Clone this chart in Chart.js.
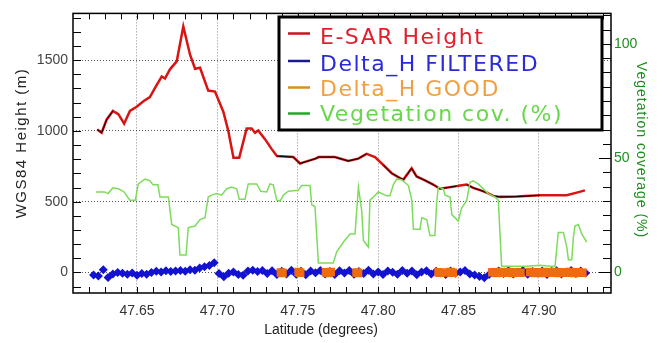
<!DOCTYPE html>
<html>
<head>
<meta charset="utf-8">
<script src="https://cdn.jsdelivr.net/npm/chart.js@4.4.1/dist/chart.umd.min.js"></script>
<style>
  html, body { margin: 0; padding: 0; background: #fff; }
</style>
</head>
<body>
<canvas id="profileChart" width="662" height="343"></canvas>
<script>
// E-SAR height profile (latitude, metres)
const heightLat = [47.6253, 47.6280, 47.6311, 47.6350, 47.6384, 47.6420, 47.6456, 47.6498, 47.6540, 47.6580,
  47.6622, 47.6654, 47.6674, 47.6705, 47.6747, 47.6788, 47.6830, 47.6861, 47.6892, 47.6943,
  47.6985, 47.7037, 47.7068, 47.7100, 47.7136, 47.7182, 47.7213, 47.7234, 47.7254, 47.7296,
  47.7337, 47.7370, 47.7472, 47.7514, 47.7545, 47.7610, 47.7630, 47.7730, 47.7814, 47.7876,
  47.7928, 47.7980, 47.8032, 47.8084, 47.8136, 47.8157, 47.8208, 47.8239, 47.8291, 47.8342,
  47.8384, 47.8488, 47.8510, 47.8551, 47.8591, 47.8633, 47.8675, 47.8716, 47.8758, 47.8861,
  47.9006, 47.9172, 47.9235, 47.9286];
const heightM = [1010, 987, 1079, 1141, 1118, 1051, 1141, 1171, 1210, 1239,
  1324, 1384, 1370, 1435, 1491, 1737, 1538, 1439, 1446, 1285,
  1278, 1136, 999, 811, 811, 1017, 1017, 987, 1003, 942,
  873, 822, 815, 770, 781, 804, 815, 815, 788, 804,
  838, 815, 759, 701, 667, 656, 736, 678, 651, 621,
  591, 610, 614, 621, 598, 582, 564, 541, 534, 536,
  545, 545, 564, 580];

// Vegetation coverage (latitude, %)
const vegLat = [47.6245, 47.6300, 47.6320, 47.6350, 47.6384, 47.6420, 47.6456, 47.6490, 47.6508, 47.6550,
  47.6580, 47.6600, 47.6630, 47.6643, 47.6695, 47.6716, 47.6757, 47.6767, 47.6805, 47.6819,
  47.6861, 47.6892, 47.6923, 47.6943, 47.6964, 47.6995, 47.7026, 47.7058, 47.7089, 47.7120,
  47.7136, 47.7172, 47.7192, 47.7244, 47.7270, 47.7307, 47.7327, 47.7348, 47.7369, 47.7390,
  47.7410, 47.7441, 47.7503, 47.7524, 47.7576, 47.7587, 47.7607, 47.7628, 47.7721, 47.7742,
  47.7784, 47.7825, 47.7856, 47.7877, 47.7898, 47.7908, 47.7939, 47.7949, 47.7970, 47.8001,
  47.8053, 47.8073, 47.8094, 47.8115, 47.8146, 47.8188, 47.8209, 47.8219, 47.8260, 47.8271,
  47.8302, 47.8322, 47.8353, 47.8364, 47.8374, 47.8405, 47.8416, 47.8447, 47.8458, 47.8498,
  47.8519, 47.8551, 47.8571, 47.8591, 47.8622, 47.8685, 47.8726, 47.8747, 47.8768, 47.8799,
  47.8924, 47.9006, 47.9068, 47.9100, 47.9120, 47.9152, 47.9173, 47.9183, 47.9204, 47.9214,
  47.9224, 47.9245, 47.9266, 47.9297];
const vegPct = [35.2, 35.2, 34.5, 37.0, 36.6, 35.2, 31.6, 31.6, 38.7, 40.8,
  40.1, 38.3, 38.3, 33.0, 33.0, 21.0, 19.6, 7.6, 7.6, 19.6,
  20.3, 23.1, 23.9, 33.0, 33.8, 34.5, 33.8, 36.6, 37.3, 36.6,
  32.0, 32.0, 38.7, 38.7, 35.5, 35.2, 38.7, 38.3, 31.6, 31.2,
  33.8, 35.5, 35.9, 38.0, 38.0, 29.5, 28.8, 4.1, 4.1, 9.0,
  13.3, 16.8, 16.8, 37.3, 26.7, 14.0, 11.1, 31.6, 33.0, 35.2,
  33.5, 33.5, 38.3, 40.8, 40.6, 38.0, 31.6, 18.9, 18.9, 23.9,
  23.1, 16.1, 16.1, 30.9, 37.3, 36.6, 33.8, 33.0, 25.3, 22.5,
  28.1, 31.6, 39.4, 40.1, 38.7, 34.5, 33.0, 31.6, 2.7, 2.7,
  2.7, 3.1, 2.7, 2.7, 17.5, 17.5, 11.1, 5.5, 5.5, 15.4,
  20.3, 21.0, 16.8, 13.3];

// Delta_H FILTERED (latitude, metres)
const filteredLat = [47.623, 47.626, 47.629, 47.632, 47.635, 47.638, 47.641, 47.644, 47.647, 47.650,
  47.653, 47.656, 47.659, 47.662, 47.665, 47.668, 47.671, 47.674, 47.677, 47.680,
  47.683, 47.686, 47.689, 47.692, 47.695, 47.698, 47.701, 47.704, 47.707, 47.710,
  47.713, 47.716, 47.719, 47.722, 47.725, 47.728, 47.731, 47.734, 47.737, 47.740,
  47.743, 47.746, 47.749, 47.752, 47.755, 47.758, 47.761, 47.764, 47.767, 47.770,
  47.773, 47.776, 47.779, 47.782, 47.785, 47.788, 47.791, 47.794, 47.797, 47.800,
  47.803, 47.806, 47.809, 47.812, 47.815, 47.818, 47.821, 47.824, 47.827, 47.830,
  47.833, 47.836, 47.839, 47.842, 47.845, 47.848, 47.851, 47.854, 47.857, 47.860,
  47.863, 47.866, 47.869, 47.872, 47.875, 47.878, 47.881, 47.884, 47.887, 47.890,
  47.893, 47.896, 47.899, 47.902, 47.905, 47.908, 47.911, 47.914, 47.917, 47.920,
  47.923, 47.926, 47.929];
const filteredDH = [-18, -25, 20, -35, -10, 0, -6, -12, -4, -20,
  -8, -12, 0, 8, 4, 12, 6, 10, 14, 8,
  20, 16, 32, 40, 50, 68, -8, -30, -6, 4,
  -14, -20, 10, 16, 6, 14, -8, 12, -14, 8,
  -10, 16, -12, 8, -16, 10, -2, 14, -10, 6,
  -14, 12, -4, 14, -12, 6, -8, 16, -10, 4,
  -14, 10, 2, -12, 14, -6, 10, -16, 4, 12,
  -10, 8, -4, -14, 10, -6, 4, 14, -10, -18,
  -28, -38, -14, 2, 10, -8, 12, -10, 4, 14,
  -12, 6, -4, 10, -14, 6, 12, -10, 4, 14,
  -8, 10, -4];

// Delta_H GOOD (latitude, metres)
const goodLat = [47.7395, 47.7405, 47.7505, 47.7515, 47.7675, 47.7690, 47.7705, 47.7865, 47.7875, 47.8375,
  47.8385, 47.8435, 47.8450, 47.8465, 47.8710, 47.8735, 47.8760, 47.8785, 47.8810, 47.8835,
  47.8860, 47.8885, 47.8945, 47.8970, 47.8995, 47.9020, 47.9045, 47.9070, 47.9095, 47.9120,
  47.9145, 47.9170, 47.9195, 47.9220, 47.9245, 47.9270];
const goodDH = [0, -4, 4, -2, 2, -4, 4, 0, -4, 2,
  -2, 0, 4, -2, 2, -3, 4, -2, 3, -4,
  2, -2, 3, -3, 2, -4, 3, -2, 4, -3,
  2, -2, 3, -4, 2, -2];

// stretches where the dark core shows inside the red height line
const darkCoreRanges = [[47.62, 47.632], [47.735, 47.79], [47.80, 47.845], [47.855, 47.89]];

const latTicks = [47.65, 47.70, 47.75, 47.80, 47.85, 47.90];
const heightTicks = [0, 500, 1000, 1500];
const vegTicks = [0, 50, 100];

const legendItems = [
  { label: 'E-SAR Height', line: '#c8141e', text: '#e0202c' },
  { label: 'Delta_H FILTERED', line: '#1a1a90', text: '#2a2ad8' },
  { label: 'Delta_H GOOD', line: '#d8901a', text: '#f0a040' },
  { label: 'Vegetation cov. (%)', line: '#22aa22', text: '#66d84a' }
];

const toPoints = (xs, ys) => xs.map((x, i) => ({ x: x, y: ys[i] }));

// inward ticks, frame, legend box and axis titles
const axisDecor = {
  id: 'axisDecor',
  afterDatasetsDraw(chart) {
    const { ctx, chartArea: a, scales } = chart;
    ctx.save();
    ctx.strokeStyle = '#000';
    ctx.lineWidth = 1;
    ctx.beginPath();
    for (let i = 4762; i <= 4794; i++) {
      const px = Math.round(scales.x.getPixelForValue(i / 100)) + 0.5;
      ctx.moveTo(px, a.bottom); ctx.lineTo(px, a.bottom - 6);
      ctx.moveTo(px, a.top); ctx.lineTo(px, a.top + 6);
    }
    for (let v = -100; v <= 1800; v += 100) {
      const py = Math.round(scales.y.getPixelForValue(v)) + 0.5;
      ctx.moveTo(a.left, py); ctx.lineTo(a.left + 8, py);
    }
    for (let i = -1; i <= 18; i++) {
      const py = Math.round(scales.y1.getPixelForValue(i * 6.25)) + 0.5;
      const len = i % 8 === 0 ? 12 : 8;
      ctx.moveTo(a.right, py); ctx.lineTo(a.right - len, py);
    }
    ctx.stroke();
    ctx.lineWidth = 1.5;
    ctx.strokeRect(a.left, a.top, a.right - a.left, a.bottom - a.top);
    ctx.restore();
  },
  afterDraw(chart) {
    const ctx = chart.ctx;
    ctx.save();
    // legend
    ctx.fillStyle = '#fff';
    ctx.fillRect(279, 17, 323, 113);
    ctx.strokeStyle = '#000';
    ctx.lineWidth = 3;
    ctx.strokeRect(279, 17, 323, 113);
    const lineY = [33.5, 61, 87.5, 113.5];
    const baseY = [44, 70.5, 95.5, 120.5];
    ctx.font = '22px "DejaVu Sans"';
    ctx.letterSpacing = '1.5px';
    ctx.textBaseline = 'alphabetic';
    ctx.textAlign = 'left';
    legendItems.forEach((it, i) => {
      ctx.strokeStyle = it.line;
      ctx.lineWidth = 2.5;
      ctx.beginPath();
      ctx.moveTo(288, lineY[i]); ctx.lineTo(310, lineY[i]);
      ctx.stroke();
      ctx.fillStyle = it.text;
      ctx.fillText(it.label, 320, baseY[i]);
    });
    // axis titles
    ctx.textAlign = 'center';
    ctx.textBaseline = 'middle';
    ctx.save();
    ctx.translate(22, 143);
    ctx.rotate(-Math.PI / 2);
    ctx.font = '15px "Liberation Sans"';
    ctx.letterSpacing = '1.5px';
    ctx.fillStyle = '#222';
    ctx.fillText('WGS84 Height (m)', 0, 0);
    ctx.restore();

    ctx.save();
    ctx.translate(641, 150);
    ctx.rotate(Math.PI / 2);
    ctx.font = '14px "Liberation Sans"';
    ctx.letterSpacing = '1px';
    ctx.fillStyle = '#1b8c1b';
    ctx.fillText('Vegetation coverage (%)', 0, 0);
    ctx.restore();

    ctx.font = '14px "Liberation Sans"';
    ctx.letterSpacing = '0px';
    ctx.fillStyle = '#222';
    ctx.fillText('Latitude (degrees)', 321, 330);
    ctx.restore();
  }
};

const tickFont = { family: '"Liberation Sans", Arial, sans-serif', size: 14 };

new Chart(document.getElementById('profileChart').getContext('2d'), {
  type: 'line',
  data: {
    datasets: [
      {
        label: 'Vegetation cov. (%)',
        data: toPoints(vegLat, vegPct),
        yAxisID: 'y1',
        borderColor: '#7ddc5c',
        borderWidth: 1.5,
        pointRadius: 0,
        tension: 0,
        order: 0
      },
      {
        label: 'Delta_H GOOD',
        data: toPoints(goodLat, goodDH),
        yAxisID: 'y',
        showLine: false,
        pointStyle: 'rect',
        pointRadius: 6,
        pointBorderWidth: 0,
        pointBackgroundColor: '#f06a10',
        order: 1
      },
      {
        label: 'Delta_H FILTERED',
        data: toPoints(filteredLat, filteredDH),
        yAxisID: 'y',
        showLine: false,
        pointStyle: 'rectRot',
        pointRadius: 4.5,
        pointBorderWidth: 0,
        pointBackgroundColor: '#1212d0',
        order: 2
      },
      {
        label: 'core',
        data: toPoints(heightLat, heightM),
        yAxisID: 'y',
        borderWidth: 1,
        pointRadius: 0,
        tension: 0,
        segment: {
          borderColor: c => darkCoreRanges.some(r => c.p0.parsed.x >= r[0] && c.p0.parsed.x < r[1]) ? '#000' : 'transparent'
        },
        order: 3
      },
      {
        label: 'E-SAR Height',
        data: toPoints(heightLat, heightM),
        yAxisID: 'y',
        borderColor: '#d81414',
        borderWidth: 2.5,
        pointRadius: 0,
        tension: 0,
        order: 4
      }
    ]
  },
  options: {
    responsive: false,
    animation: false,
    layout: { padding: { top: 6, left: 0, right: 0, bottom: 0 } },
    plugins: { legend: { display: false }, tooltip: { enabled: false } },
    scales: {
      x: {
        type: 'linear',
        position: 'bottom',
        min: 47.6102,
        max: 47.9448,
        afterBuildTicks: s => { s.ticks = latTicks.map(v => ({ value: v })); },
        afterFit: s => { s.height = 50; },
        grid: { color: '#8a8a8a', drawTicks: false },
        border: { display: false, dash: [1, 2] },
        ticks: { padding: 10, color: '#333', font: tickFont, maxRotation: 0, autoSkip: false,
          callback: v => v.toFixed(2) }
      },
      y: {
        position: 'left',
        min: -145,
        max: 1830,
        afterBuildTicks: s => { s.ticks = heightTicks.map(v => ({ value: v })); },
        afterFit: s => { s.width = 73; },
        grid: { color: '#555', drawTicks: false },
        border: { display: false, dash: [1, 2] },
        ticks: { padding: 5, color: '#444', font: tickFont, callback: v => String(v) }
      },
      y1: {
        position: 'right',
        min: -9,
        max: 113.3,
        afterBuildTicks: s => { s.ticks = vegTicks.map(v => ({ value: v })); },
        afterFit: s => { s.width = 51; },
        grid: { drawOnChartArea: false, drawTicks: false },
        border: { display: false },
        ticks: { padding: 3, color: '#1f8f1f', font: tickFont, callback: v => String(v) }
      }
    }
  },
  plugins: [axisDecor]
});
</script>
</body>
</html>
